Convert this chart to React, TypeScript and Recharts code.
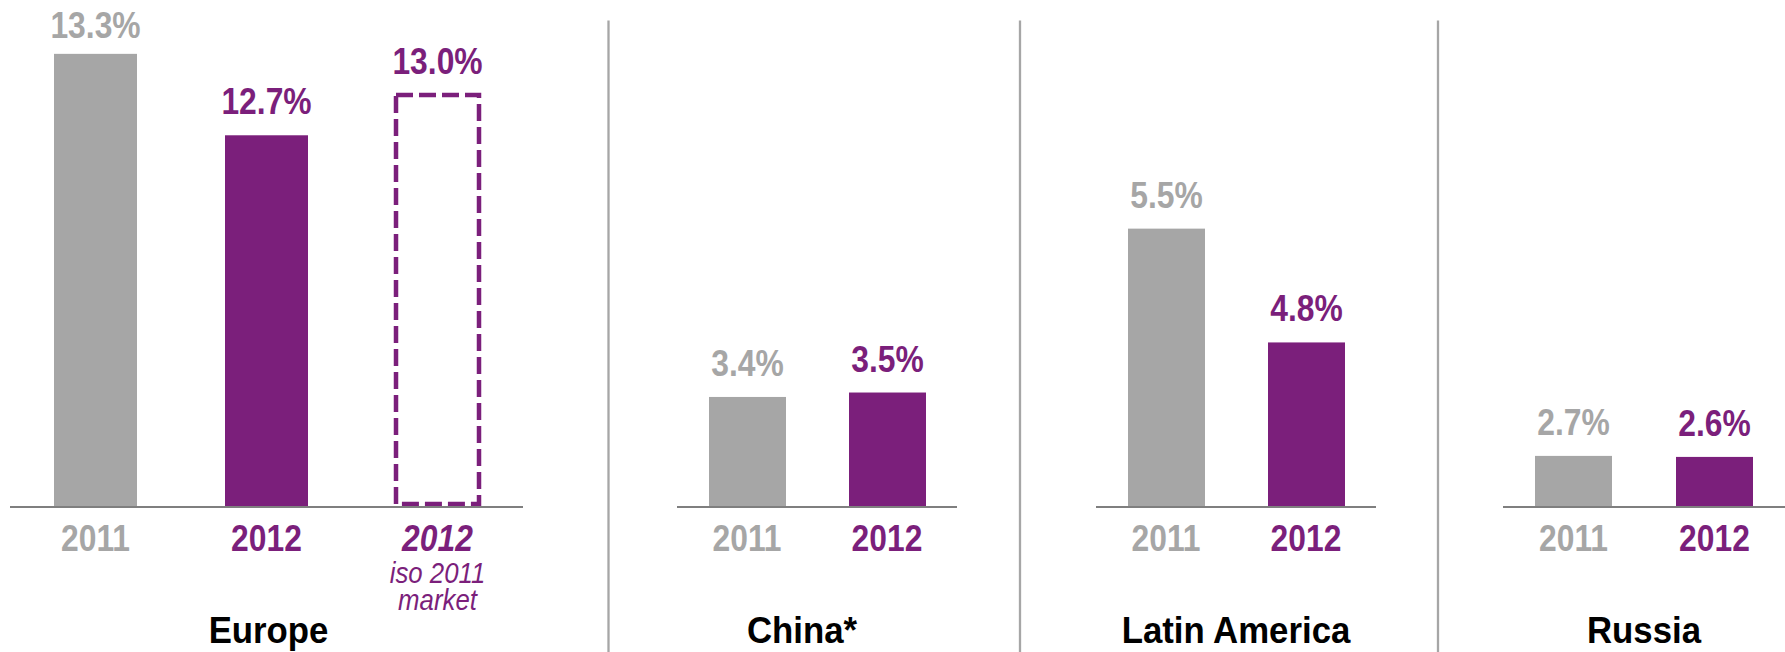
import { BarChart, Bar, XAxis, YAxis, LabelList } from "recharts";

const regions = ["Europe", "China*", "Latin America", "Russia"];
const years = ["2011", "2012"];
// bar heights as drawn in the picture (chart units), labels as printed
const bars2011 = [13.3, 3.23, 8.17, 1.5];
const bars2012 = [10.91, 3.36, 4.83, 1.47];
const barEuropeIso = 12.09;
const labels2011 = ["13.3%", "3.4%", "5.5%", "2.7%"];
const labels2012 = ["12.7%", "3.5%", "4.8%", "2.6%"];
const labelEuropeIso = "13.0%";
const isoNote = ["iso 2011", "market"];

const GREY = "#a6a6a6";
const PURPLE = "#7b1f7b";
const AXIS = "#7f7f7f";
const FONT = '"Liberation Sans", Arial, sans-serif';
const NARROW_X = 0.86; // no narrow face installed, so squeeze the regular one

const CHART_H = 652;
const TOP = 30;
const AXIS_H = 145;

// panel placement in px
const panels = [
  { left: 10, width: 513, barSize: 83, titleDx: 2 },
  { left: 677, width: 280, barSize: 77, titleDx: -15 },
  { left: 1096, width: 280, barSize: 77, titleDx: 0 },
  { left: 1503, width: 282, barSize: 77, titleDx: 0 },
];
const separators = [608.5, 1020, 1438];

type Row = { key: string; year: string; value: number; label: string; kind: "old" | "new" | "iso" };

function rowsFor(i: number): Row[] {
  const rows: Row[] = [
    { key: years[0], year: years[0], value: bars2011[i], label: labels2011[i], kind: "old" },
    { key: years[1], year: years[1], value: bars2012[i], label: labels2012[i], kind: "new" },
  ];
  if (i === 0) {
    rows.push({ key: "2012 iso", year: years[1], value: barEuropeIso, label: labelEuropeIso, kind: "iso" });
  }
  return rows;
}

function SqText({
  x,
  y,
  sx = NARROW_X,
  children,
  ...rest
}: {
  x: number;
  y: number;
  sx?: number;
  children: any;
  [k: string]: any;
}) {
  return (
    <g transform={`translate(${x},${y}) scale(${sx},1)`}>
      <text x={0} y={0} textAnchor="middle" fontFamily={FONT} {...rest}>
        {children}
      </text>
    </g>
  );
}

const BarShape = (props: any) => {
  const { x, y, width, height, payload } = props;
  if (payload.kind === "iso") {
    return (
      <rect
        x={x}
        y={y}
        width={width}
        height={height - 3}
        fill="none"
        stroke={PURPLE}
        strokeWidth={4.5}
        strokeDasharray="17 6"
      />
    );
  }
  return <rect x={x} y={y} width={width} height={height} fill={payload.kind === "old" ? GREY : PURPLE} />;
};

function Panel({ index }: { index: number }) {
  const p = panels[index];
  const rows = rowsFor(index);

  const renderTick = (props: any) => {
    const { x, y, payload } = props;
    const row = rows.find((r) => r.key === payload.value);
    if (!row) return <g />;
    const iso = row.kind === "iso";
    return (
      <g>
        <SqText
          x={x}
          y={y + 44}
          fill={row.kind === "old" ? GREY : PURPLE}
          fontWeight="bold"
          fontStyle={iso ? "italic" : "normal"}
          fontSize={37}
        >
          {row.year}
        </SqText>
        {iso &&
          isoNote.map((t, k) => (
            <SqText
              key={t}
              x={x}
              y={y + 76 + k * 27}
              fill={PURPLE}
              fontStyle="italic"
              fontSize={30}
            >
              {t}
            </SqText>
          ))}
      </g>
    );
  };

  const renderValue = (props: any) => {
    const { x, y, width, index: i } = props;
    const row = rows[i];
    if (!row) return null;
    const baseline = Math.max(y - 21, 37.5);
    return (
      <SqText
        x={x + width / 2}
        y={baseline}
        fill={row.kind === "old" ? GREY : PURPLE}
        fontWeight="bold"
        fontSize={37}
      >
        {row.label}
      </SqText>
    );
  };

  return (
    <div style={{ position: "absolute", left: p.left, top: 0 }}>
      <BarChart
        width={p.width}
        height={CHART_H}
        data={rows}
        margin={{ top: TOP, right: 0, bottom: 0, left: 0 }}
      >
        <XAxis
          dataKey="key"
          height={AXIS_H}
          tickSize={0}
          tickMargin={0}
          tickLine={false}
          axisLine={{ stroke: AXIS, strokeWidth: 2 }}
          tick={renderTick}
          interval={0}
          label={{
            content: () => (
              <SqText
                x={p.width / 2 + p.titleDx}
                y={643}
                sx={0.94}
                fill="#000"
                fontWeight="bold"
                fontSize={37}
              >
                {regions[index]}
              </SqText>
            ),
          }}
        />
        <YAxis hide domain={[0, 14]} allowDataOverflow />
        <Bar dataKey="value" barSize={p.barSize} shape={BarShape} isAnimationActive={false}>
          <LabelList dataKey="label" content={renderValue} />
        </Bar>
      </BarChart>
    </div>
  );
}

export default function App() {
  return (
    <div
      style={{
        position: "absolute",
        left: 0,
        top: 0,
        width: 1785,
        height: 652,
        overflow: "hidden",
        background: "#fff",
      }}
    >
      {regions.map((r, i) => (
        <Panel key={r} index={i} />
      ))}
      <svg
        width={1785}
        height={652}
        style={{ position: "absolute", left: 0, top: 0, pointerEvents: "none" }}
      >
        {separators.map((sx) => (
          <line key={sx} x1={sx} x2={sx} y1={20.5} y2={652} stroke={GREY} strokeWidth={2.3} />
        ))}
      </svg>
    </div>
  );
}
